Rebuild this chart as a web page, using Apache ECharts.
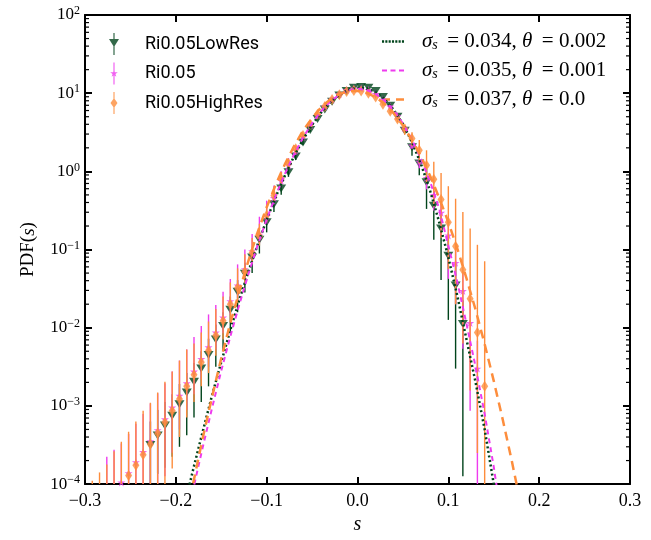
<!DOCTYPE html>
<html><head><meta charset="utf-8">
<script src="https://cdn.jsdelivr.net/npm/echarts@6/dist/echarts.min.js"></script>
<style>html,body{margin:0;padding:0;background:#fff}#c{width:651px;height:540px}</style>
</head><body><div id="c"></div>
<script>
// ---- data ----
const sBins = [-0.292,-0.284,-0.276,-0.268,-0.26,-0.252,-0.244,-0.236,-0.228,-0.22,-0.212,-0.204,-0.196,-0.188,-0.18,-0.172,-0.164,-0.156,-0.148,-0.14,-0.132,-0.124,-0.116,-0.108,-0.1,-0.092,-0.084,-0.076,-0.068,-0.06,-0.052,-0.044,-0.036,-0.028,-0.02,-0.012,-0.004,0.004,0.012,0.02,0.028,0.036,0.044,0.052,0.06,0.068,0.076,0.084,0.092,0.1,0.108,0.116,0.124,0.132,0.14,0.148,0.156];

const lowResPdf = [null,null,null,null,null,null,null,null,3.16e-4,4.17e-4,5.62e-4,7.5e-4,1.05e-3,1.48e-3,2.04e-3,3.02e-3,4.47e-3,7.08e-3,1.05e-2,1.70e-2,2.88e-2,4.9e-2,7.94e-2,0.133,0.224,0.380,0.603,0.977,1.55,2.34,3.39,4.68,6.17,7.76,9.33,10.7,11.7,12.0,11.7,10.7,8.91,6.92,5.01,3.31,2.04,1.26,0.724,0.363,0.186,0.0832,0.0347,0.0112,null,null,null,null,null];
const lowResHi = [null,null,null,null,null,null,null,null,6.3e-4,8.9e-4,1.12e-3,1.41e-3,1.91e-3,2.63e-3,3.55e-3,5.0e-3,7.24e-3,1.10e-2,1.58e-2,2.51e-2,4.07e-2,6.76e-2,0.105,0.170,0.275,0.447,0.692,1.10,1.7,2.5,3.55,4.85,6.35,7.95,9.5,10.9,11.9,12.2,11.9,10.9,9.1,7.1,5.2,3.5,2.45,1.58,1.07,0.562,0.316,0.148,0.066,0.0224,null,null,null,null,null];
const lowResLo = [null,null,null,null,null,null,null,null,0,1.35e-4,1.62e-4,2.24e-4,3.0e-4,4.2e-4,7.1e-4,1.12e-3,1.78e-3,3.16e-3,5.0e-3,8.9e-3,1.58e-2,2.82e-2,5.0e-2,8.9e-2,0.166,0.302,0.501,0.851,1.4,2.18,3.2,4.5,6.0,7.55,9.15,10.5,11.5,11.8,11.5,10.5,8.7,6.7,4.8,3.1,1.58,0.891,0.331,0.133,0.0407,0.0126,3.0e-3,1.26e-4,null,null,null,null,null];

const midPdf = [null,null,7.1e-5,8.7e-5,1.05e-4,1.38e-4,1.91e-4,2.57e-4,3.55e-4,4.9e-4,6.76e-4,9.55e-4,1.35e-3,1.95e-3,2.75e-3,3.98e-3,5.62e-3,8.7e-3,1.35e-2,2.19e-2,3.47e-2,5.62e-2,9.55e-2,0.155,0.269,0.457,0.759,1.20,1.86,2.75,3.89,5.25,6.76,8.32,9.77,11.0,11.5,11.5,11.0,9.77,8.32,6.76,5.13,3.55,2.14,1.33,0.826,0.501,0.295,0.151,0.0676,0.0295,0.0115,3.0e-3,null,null,null];
const midHi = [null,null,2.24e-4,2.75e-4,3.3e-4,4.37e-4,5.9e-4,7.9e-4,1.07e-3,1.45e-3,1.95e-3,2.75e-3,3.8e-3,5.25e-3,7.6e-3,1.05e-2,1.48e-2,1.95e-2,2.88e-2,4.2e-2,6.46e-2,0.100,0.158,0.263,0.422,0.661,1.0,1.48,2.14,3.0,4.1,5.45,6.95,8.5,9.95,11.2,11.7,11.7,11.2,10.0,8.55,7.0,5.35,3.75,2.3,1.55,1.0,0.631,0.389,0.214,0.107,0.0525,0.0229,6.8e-3,null,null,null];
const midLo = [null,null,0,0,0,0,0,0,0,0,1.26e-4,2.51e-4,5.0e-4,8.9e-4,1.41e-3,2.19e-3,3.16e-3,5.25e-3,8.5e-3,1.45e-2,2.4e-2,4.07e-2,7.24e-2,0.120,0.214,0.380,0.661,1.07,1.62,2.5,3.68,5.05,6.57,8.15,9.6,10.8,11.3,11.3,10.8,9.55,8.1,6.5,4.9,3.35,1.95,1.10,0.589,0.316,0.148,0.0422,0.02,5.4e-3,8.7e-4,0,null,null,null];

const highResPdf = [5.0e-5,5.6e-5,6.6e-5,7.9e-5,9.5e-5,1.29e-4,1.74e-4,2.37e-4,3.24e-4,4.47e-4,6.17e-4,8.7e-4,1.23e-3,1.78e-3,2.51e-3,3.63e-3,5.13e-3,7.94e-3,1.23e-2,2.0e-2,3.24e-2,5.25e-2,9.12e-2,0.148,0.275,0.490,0.813,1.26,1.95,2.88,3.98,5.37,6.76,8.32,9.55,10.5,10.8,10.7,10.0,8.91,7.24,5.89,4.68,3.47,2.63,1.86,1.20,0.794,0.437,0.224,0.110,0.055,0.0234,8.7e-3,1.78e-3,null,null];
const highResHi = [1.1e-4,1.41e-4,1.78e-4,2.63e-4,3.47e-4,4.68e-4,6.3e-4,8.7e-4,1.10e-3,1.48e-3,2.04e-3,2.75e-3,3.8e-3,5.25e-3,6.3e-3,8.7e-3,1.20e-2,1.74e-2,2.51e-2,3.8e-2,5.75e-2,8.7e-2,0.141,0.214,0.363,0.603,0.955,1.41,2.1,3.05,4.15,5.55,6.95,8.5,9.75,10.7,11.0,10.9,10.25,9.2,7.55,6.25,5.1,3.98,3.16,2.51,1.86,1.33,0.955,0.646,0.447,0.302,0.186,0.115,0.0708,null,null];
const highResLo = [0,0,0,0,0,0,0,0,0,0,0,1.58e-4,4.0e-4,7.1e-4,1.12e-3,1.78e-3,2.63e-3,4.37e-3,7.08e-3,1.23e-2,2.09e-2,3.63e-2,6.6e-2,0.112,0.224,0.417,0.708,1.12,1.8,2.7,3.8,5.2,6.55,8.1,9.35,10.3,10.6,10.5,9.75,8.6,6.9,5.5,4.25,2.95,2.09,1.26,0.708,0.355,0.141,0.0562,0.02,6.3e-3,1.58e-3,2.5e-4,0,null,null];

const sFit = [-0.20,-0.19,-0.18,-0.17,-0.16,-0.15,-0.14,-0.13,-0.12,-0.11,-0.10,-0.09,-0.08,-0.07,-0.06,-0.05,-0.04,-0.03,-0.02,-0.01,0.00,0.01,0.02,0.03,0.04,0.05,0.06,0.07,0.08,0.09,0.10,0.11,0.12,0.13,0.14,0.15,0.16,0.17,0.18,0.19];
const fit034 = [1.78e-5,5.62e-5,1.70e-4,4.9e-4,1.38e-3,3.63e-3,9.33e-3,2.29e-2,5.25e-2,0.115,0.240,0.473,0.881,1.55,2.55,3.94,5.68,7.64,9.55,11.03,11.75,11.48,10.26,8.32,6.11,4.02,2.36,1.23,0.561,0.223,0.0794,0.0251,7.08e-3,2.0e-3,5.0e-4,1.0e-4,1.78e-5,null,null,null];
const fit035 = [7.4e-6,2.75e-5,9.55e-5,3.09e-4,9.55e-4,2.82e-3,7.76e-3,2.0e-2,4.9e-2,0.113,0.243,0.491,0.927,1.635,2.69,4.13,5.89,7.80,9.57,10.88,11.40,11.02,9.80,8.00,5.98,4.08,2.54,1.44,0.738,0.331,0.112,0.038,0.0112,3.16e-3,7.9e-4,1.66e-4,2.8e-5,null,null,null];
const fit037 = [7.6e-6,3.09e-5,1.15e-4,4.07e-4,1.32e-3,4.07e-3,1.15e-2,2.95e-2,7.24e-2,0.166,0.347,0.676,1.23,2.09,3.31,4.79,6.61,8.32,9.77,10.6,10.74,10.1,8.89,7.24,5.50,3.86,2.51,1.55,0.871,0.457,0.224,0.102,0.0427,0.017,6.17e-3,2.09e-3,6.6e-4,1.95e-4,5.25e-5,1.33e-5];

const seriesNames = ['Ri0.05LowRes','Ri0.05','Ri0.05HighRes'];
const fitNames = ['fit034','fit035','fit037'];
const fitLabels = {
  fit034: '{i|σ}{sub|s}{r| \u2009= 0.034, }{i|θ}{r| \u2009= 0.002}',
  fit035: '{i|σ}{sub|s}{r| \u2009= 0.035, }{i|θ}{r| \u2009= 0.001}',
  fit037: '{i|σ}{sub|s}{r| \u2009= 0.037, }{i|θ}{r| \u2009= 0.0}'
};
const xMin = -0.3, xMax = 0.3, yMin = 1e-4, yMax = 1e2;

// ---- styling ----
const C_GREEN = '#00441b', C_MAG = '#ee3bee', C_ORA = '#fd8d3c';
const SERIF = 'Liberation Serif';
const starPath = 'path://M50,0L61.2,34.55L97.55,34.55L68.2,55.9L79.4,90.45L50,69.1L20.6,90.45L31.8,55.9L2.45,34.55L38.8,34.55Z';
const iconLow = 'path://M4.4,0H5.6V22H4.4Z M0,6H10L5,14Z';
const iconMid = 'path://M4.4,0H5.6V22H4.4Z M5,7L5.9,9.76L8.8,9.76L6.45,11.47L7.35,14.24L5,12.53L2.65,14.24L3.55,11.47L1.2,9.76L4.1,9.76Z';
const iconHigh = 'path://M4.4,0H5.6V22H4.4Z M5,6L8.5,11L5,16L1.5,11Z';
const iconDot = 'path://M0,0h2.2v2.6h-2.2z M3.5,0h2.2v2.6h-2.2z M7,0h2.2v2.6h-2.2z M10.5,0h2.2v2.6h-2.2z M14,0h2.2v2.6h-2.2z M17.5,0h2.2v2.6h-2.2z M21,0h2.2v2.6h-2.2z';
const iconDash = 'path://M0,0h5v2.2h-5z M8.5,0h5v2.2h-5z M17,0h5v2.2h-5z';
const iconLong = 'path://M0,0h8v2.6h-8z M14,0h8v2.6h-8z';

function pts(vals) {
  const out = [];
  sBins.forEach((s, i) => { if (vals[i] != null) out.push([s, vals[i]]); });
  return out;
}
function bars(lo, hi) {
  const out = [];
  sBins.forEach((s, i) => { if (hi[i] != null) out.push([s, Math.max(lo[i], 1e-7), hi[i]]); });
  return out;
}
function fitPts(vals) {
  const out = [];
  sFit.forEach((s, i) => { if (vals[i] != null) out.push([s, vals[i]]); });
  return out;
}
function errSeries(id, data, color, z) {
  return {
    type: 'custom', name: id, silent: true, clip: true, z: z,
    data: data, encode: { x: 0, y: [1, 2] },
    renderItem: function (params, api) {
      const x = api.value(0);
      const p1 = api.coord([x, api.value(2)]);
      const p2 = api.coord([x, api.value(1)]);
      return { type: 'line', shape: { x1: p1[0], y1: p1[1], x2: p2[0], y2: p2[1] },
        style: { stroke: color, lineWidth: 1.4 } };
    }
  };
}
const minorVals = [];
for (let e = -4; e < 2; e++) for (let m = 2; m <= 9; m++) minorVals.push([xMin, m * Math.pow(10, e)]);

const baseLabel = { fontFamily: SERIF, fontSize: 17, color: '#000' };
function yLabel(v) {
  const e = Math.round(Math.log10(v));
  return '{b|10}{sup|' + (e < 0 ? '−' + (-e) : e) + '}';
}
const axLine = { onZero: false, lineStyle: { color: '#000', width: 2 } };
const axTick = { inside: true, length: 7, lineStyle: { color: '#000', width: 2 } };

const chart = echarts.init(document.getElementById('c'), null, { renderer: 'canvas' });
chart.setOption({
  animation: false,
  backgroundColor: '#fff',
  grid: { left: 85, right: 21, top: 15, bottom: 45 },
  xAxis: [
    { type: 'value', min: xMin, max: xMax, interval: 0.1, position: 'bottom',
      axisLine: axLine, axisTick: axTick, splitLine: { show: false },
      axisLabel: { margin: 8, fontFamily: SERIF, fontSize: 18, color: '#000',
        formatter: v => (v < -1e-9 ? '−' : '') + Math.abs(v).toFixed(1) },
      name: 's', nameLocation: 'middle', nameGap: 18,
      nameTextStyle: { fontFamily: SERIF, fontStyle: 'italic', fontSize: 20, color: '#000' } },
    { type: 'value', min: xMin, max: xMax, interval: 0.1, position: 'top',
      axisLine: axLine, axisTick: axTick, splitLine: { show: false }, axisLabel: { show: false } }
  ],
  yAxis: [
    { type: 'log', logBase: 10, min: yMin, max: yMax, splitNumber: 6, position: 'left',
      axisLine: axLine, axisTick: axTick, splitLine: { show: false },
      axisLabel: { margin: 5, formatter: yLabel,
        rich: { b: Object.assign({}, baseLabel, { lineHeight: 20 }),
                sup: { fontFamily: SERIF, fontSize: 12, color: '#000', verticalAlign: 'top', lineHeight: 12 } } },
      name: '{r|PDF(}{i|s}{r|)}', nameLocation: 'middle', nameGap: 47,
      nameTextStyle: { rich: { r: { fontFamily: SERIF, fontSize: 19, color: '#000' },
                               i: { fontFamily: SERIF, fontSize: 19, fontStyle: 'italic', color: '#000' } } } },
    { type: 'log', logBase: 10, min: yMin, max: yMax, splitNumber: 6, position: 'right',
      axisLine: axLine, axisTick: axTick, splitLine: { show: false }, axisLabel: { show: false } }
  ],
  legend: [
    { orient: 'vertical', left: 109, top: 33, padding: 0, itemWidth: 52, itemHeight: 22, itemGap: 7.5,
      selectedMode: false, symbolRotate: 0,
      data: [{ name: seriesNames[0], icon: iconLow }, { name: seriesNames[1], icon: iconMid }, { name: seriesNames[2], icon: iconHigh }],
      textStyle: { fontFamily: 'Roboto', fontSize: 18, color: '#000', lineHeight: 22 } },
    { orient: 'vertical', left: 382, top: 31, padding: 0, itemWidth: 22, itemHeight: 22, itemGap: 7.5,
      selectedMode: false,
      data: [{ name: fitNames[0], icon: iconDot }, { name: fitNames[1], icon: iconDash }, { name: fitNames[2], icon: iconLong }],
      formatter: n => fitLabels[n],
      textStyle: { padding: [0, 0, 0, 13], rich: {
        i: { fontFamily: SERIF, fontStyle: 'italic', fontSize: 21, color: '#000', lineHeight: 22 },
        sub: { fontFamily: SERIF, fontStyle: 'italic', fontSize: 14, color: '#000', lineHeight: 16, verticalAlign: 'bottom' },
        r: { fontFamily: SERIF, fontSize: 21, color: '#000', lineHeight: 22 } } } }
  ],
  series: [
    { type: 'custom', name: 'minorTicks', silent: true, clip: false, z: 1, data: minorVals,
      renderItem: function (params, api) {
        const v = api.value(1);
        const pl = api.coord([xMin, v]);
        const pr = api.coord([xMax, v]);
        return { type: 'group', children: [
          { type: 'line', shape: { x1: pl[0], y1: pl[1], x2: pl[0] + 4, y2: pl[1] }, style: { stroke: '#000', lineWidth: 1.2 } },
          { type: 'line', shape: { x1: pr[0] - 4, y1: pr[1], x2: pr[0], y2: pr[1] }, style: { stroke: '#000', lineWidth: 1.2 } }
        ] };
      } },
    errSeries('errLow', bars(lowResLo, lowResHi), C_GREEN, 2),
    { type: 'scatter', name: seriesNames[0], data: pts(lowResPdf), z: 3,
      symbol: 'triangle', symbolRotate: 180, symbolSize: [10, 8],
      itemStyle: { color: C_GREEN } },
    errSeries('errMid', bars(midLo, midHi), C_MAG, 4),
    { type: 'scatter', name: seriesNames[1], data: pts(midPdf), z: 5,
      symbol: starPath, symbolSize: 8, itemStyle: { color: C_MAG } },
    errSeries('errHigh', bars(highResLo, highResHi), C_ORA, 6),
    { type: 'scatter', name: seriesNames[2], data: pts(highResPdf), z: 7,
      symbol: 'diamond', symbolSize: [7, 11], itemStyle: { color: C_ORA } },
    { type: 'line', name: fitNames[0], data: fitPts(fit034), z: 8, showSymbol: false, symbol: 'none', clip: true,
      lineStyle: { color: C_GREEN, width: 2.5, type: [2, 2.6] }, itemStyle: { color: C_GREEN } },
    { type: 'line', name: fitNames[1], data: fitPts(fit035), z: 9, showSymbol: false, symbol: 'none', clip: true,
      lineStyle: { color: C_MAG, width: 2, type: [5, 4] }, itemStyle: { color: C_MAG } },
    { type: 'line', name: fitNames[2], data: fitPts(fit037), z: 10, showSymbol: false, symbol: 'none', clip: true,
      lineStyle: { color: C_ORA, width: 2.5, type: [9, 6] }, itemStyle: { color: C_ORA } }
  ]
});
</script></body></html>
